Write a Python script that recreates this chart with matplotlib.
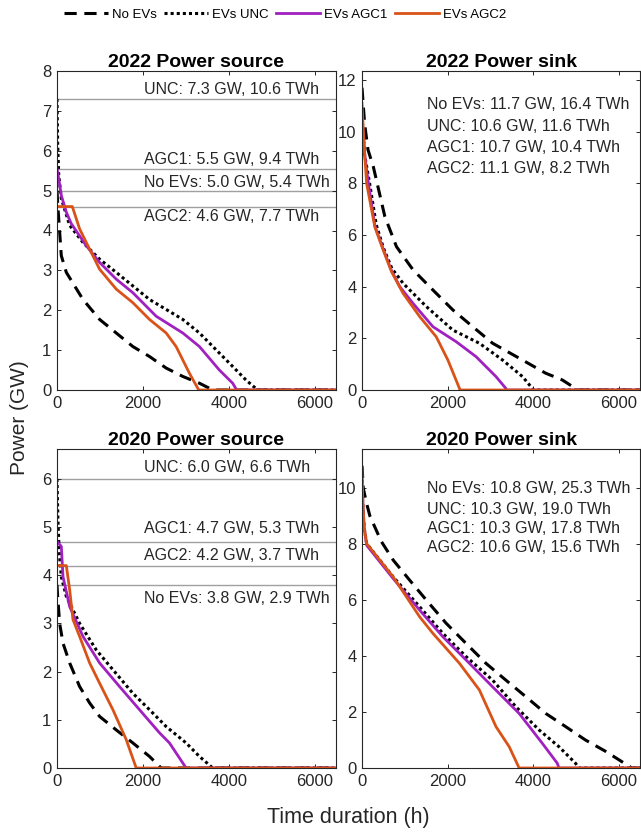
import matplotlib
matplotlib.use('Agg')
import matplotlib.pyplot as plt

plt.rcParams['font.family'] = ['Liberation Sans', 'DejaVu Sans']

series_names = ['No EVs', 'EVs UNC', 'EVs AGC1', 'EVs AGC2']

# 2022 power source (h, GW)
src22_h = {
    'No EVs': [0, 20, 62, 100, 217, 605, 992, 1380, 1767, 2155, 2543, 2930, 3318, 3630, 8760],
    'EVs UNC': [0, 15, 40, 100, 295, 605, 992, 1380, 1767, 2155, 2543, 2930, 3318, 3705, 4093, 4403, 4674, 8760],
    'EVs AGC1': [0, 40, 100, 217, 333, 682, 992, 1380, 1767, 2310, 2930, 3318, 3783, 4093, 4186, 8760],
    'EVs AGC2': [0, 357, 527, 682, 992, 1380, 1767, 2155, 2543, 2775, 3085, 3302, 8760],
}
src22_p = {
    'No EVs': [5.0, 4.6, 3.96, 3.37, 2.95, 2.27, 1.77, 1.43, 1.09, 0.84, 0.55, 0.34, 0.17, 0, 0],
    'EVs UNC': [7.3, 6.2, 5.4, 4.8, 4.13, 3.7, 3.28, 2.95, 2.61, 2.27, 2.02, 1.77, 1.43, 1.01, 0.59, 0.25, 0, 0],
    'EVs AGC1': [5.55, 5.3, 4.88, 4.46, 4.17, 3.62, 3.2, 2.78, 2.44, 1.85, 1.43, 1.09, 0.5, 0.17, 0, 0],
    'EVs AGC2': [4.6, 4.6, 4.04, 3.7, 3.03, 2.53, 2.19, 1.77, 1.43, 1.09, 0.42, 0, 0],
}
src22_lines = [7.3, 5.55, 5.0, 4.6]
src22_text = ['UNC: 7.3 GW, 10.6 TWh', 'AGC1: 5.5 GW, 9.4 TWh',
              'No EVs: 5.0 GW, 5.4 TWh', 'AGC2: 4.6 GW, 7.7 TWh']
src22_text_y = [7.54, 5.79, 5.2, 4.35]

# 2022 power sink
snk22_h = {
    'No EVs': [0, 62, 140, 264, 535, 806, 1194, 1659, 2124, 2589, 3054, 3752, 4295, 4682, 4992, 5030, 8760],
    'EVs UNC': [0, 25, 62, 178, 333, 500, 700, 961, 1504, 2124, 2744, 3287, 3752, 3984, 4010, 8760],
    'EVs AGC1': [0, 25, 62, 150, 302, 496, 690, 884, 1194, 1659, 2202, 2667, 3132, 3364, 3380, 8760],
    'EVs AGC2': [0, 23, 62, 108, 302, 496, 690, 961, 1349, 1736, 2008, 2279, 2290, 8760],
}
snk22_p = {
    'No EVs': [11.7, 10.3, 9.3, 8.65, 6.71, 5.55, 4.65, 3.87, 3.1, 2.45, 1.81, 1.16, 0.65, 0.39, 0.06, 0, 0],
    'EVs UNC': [10.6, 10.0, 9.1, 8.0, 6.4, 5.5, 4.7, 4.13, 3.23, 2.32, 1.81, 1.16, 0.52, 0.06, 0, 0],
    'EVs AGC1': [10.7, 10.0, 9.1, 8.0, 6.35, 5.45, 4.62, 4.0, 3.35, 2.45, 1.87, 1.29, 0.52, 0.06, 0, 0],
    'EVs AGC2': [11.1, 10.3, 9.16, 8.0, 6.3, 5.42, 4.58, 3.74, 2.84, 2.06, 1.16, 0.06, 0, 0],
}
snk22_text = ['No EVs: 11.7 GW, 16.4 TWh', 'UNC: 10.6 GW, 11.6 TWh',
              'AGC1: 10.7 GW, 10.4 TWh', 'AGC2: 11.1 GW, 8.2 TWh']
snk22_text_y = [11.06, 10.22, 9.39, 8.58]

# 2020 power source
src20_h = {
    'No EVs': [0, 15, 62, 140, 295, 527, 760, 992, 1380, 1767, 2155, 2426, 8760],
    'EVs UNC': [0, 20, 50, 100, 217, 527, 915, 1302, 1767, 2155, 2543, 3008, 3318, 3628, 8760],
    'EVs AGC1': [0, 100, 140, 295, 605, 992, 1457, 1922, 2388, 2620, 3008, 8760],
    'EVs AGC2': [0, 217, 295, 372, 527, 760, 992, 1302, 1612, 1845, 8760],
}
src20_p = {
    'No EVs': [3.8, 3.56, 3.0, 2.59, 2.18, 1.69, 1.35, 1.07, 0.79, 0.52, 0.24, 0, 0],
    'EVs UNC': [6.0, 5.2, 4.5, 3.97, 3.56, 3.0, 2.45, 2.04, 1.55, 1.21, 0.86, 0.52, 0.24, 0, 0],
    'EVs AGC1': [4.7, 4.6, 3.97, 3.35, 2.73, 2.18, 1.69, 1.21, 0.73, 0.52, 0, 0],
    'EVs AGC2': [4.2, 4.2, 3.7, 3.08, 2.73, 2.18, 1.76, 1.21, 0.59, 0, 0],
}
src20_lines = [6.0, 4.7, 4.2, 3.8]
src20_text = ['UNC: 6.0 GW, 6.6 TWh', 'AGC1: 4.7 GW, 5.3 TWh',
              'AGC2: 4.2 GW, 3.7 TWh', 'No EVs: 3.8 GW, 2.9 TWh']
src20_text_y = [6.23, 4.98, 4.42, 3.52]

# 2020 power sink
snk20_h = {
    'No EVs': [0, 30, 100, 186, 450, 729, 1116, 1504, 1969, 2434, 2899, 3364, 3829, 4295, 4760, 5225, 5690, 6000, 6310, 8760],
    'EVs UNC': [0, 20, 50, 109, 729, 1349, 1891, 2434, 3054, 3597, 4140, 4605, 4992, 5070, 8760],
    'EVs AGC1': [0, 20, 50, 109, 729, 1349, 1891, 2434, 3054, 3674, 4217, 4566, 4605, 8760],
    'EVs AGC2': [0, 20, 50, 109, 729, 1349, 1659, 2279, 2744, 3132, 3442, 3674, 8760],
}
snk20_p = {
    'No EVs': [10.8, 10.0, 9.5, 9.0, 8.1, 7.43, 6.71, 6.0, 5.17, 4.45, 3.74, 3.14, 2.55, 1.95, 1.48, 1.0, 0.6, 0.3, 0, 0],
    'EVs UNC': [10.3, 9.3, 8.6, 8.02, 6.83, 5.76, 4.81, 3.98, 3.14, 2.19, 1.36, 0.76, 0.17, 0, 0],
    'EVs AGC1': [10.3, 9.4, 8.6, 7.96, 6.77, 5.64, 4.69, 3.86, 2.9, 1.95, 0.88, 0.17, 0, 0],
    'EVs AGC2': [10.6, 9.5, 8.6, 8.02, 6.83, 5.4, 4.81, 3.74, 2.79, 1.48, 0.76, 0, 0],
}
snk20_text = ['No EVs: 10.8 GW, 25.3 TWh', 'UNC: 10.3 GW, 19.0 TWh',
              'AGC1: 10.3 GW, 17.8 TWh', 'AGC2: 10.6 GW, 15.6 TWh']
snk20_text_y = [10.0, 9.25, 8.56, 7.89]

styles = {
    'No EVs': dict(color='black', linestyle=(0, (4, 2.5)), linewidth=2.2),
    'EVs UNC': dict(color='black', linestyle=(0, (1, 1)), linewidth=2.2),
    'EVs AGC1': dict(color='#A020C0', linestyle='-', linewidth=2.0),
    'EVs AGC2': dict(color='#D95319', linestyle='-', linewidth=2.0),
}

fig = plt.figure(figsize=(6.41, 8.33), dpi=100)
W, H = 641, 833


def make_ax(x0, x1, y0, y1):
    return fig.add_axes([x0 / W, 1 - y1 / H, (x1 - x0) / W, (y1 - y0) / H])


panels = [
    (make_ax(57, 336, 71, 390), '2022 Power source', src22_h, src22_p, 8, 1),
    (make_ax(362, 640, 71, 390), '2022 Power sink', snk22_h, snk22_p, 12.35, 2),
    (make_ax(57, 336, 449, 768), '2020 Power source', src20_h, src20_p, 6.62, 1),
    (make_ax(362, 640, 449, 768), '2020 Power sink', snk20_h, snk20_p, 11.4, 2),
]

for ax, title, hs, ps, ytop, ystep in panels:
    for name in series_names:
        ax.plot(hs[name], ps[name], label=name, **styles[name])
    ax.set_xlim(0, 6500)
    ax.set_ylim(0, ytop)
    ax.set_xticks([0, 2000, 4000, 6000])
    yt = [i * ystep for i in range(int(ytop // ystep) + 1)]
    ax.set_yticks(yt)
    ax.set_title(title, fontsize=14, fontweight='bold', pad=3)
    ax.tick_params(direction='in', top=True, right=True, labelsize=12,
                   length=3, width=0.7, colors='#262626', pad=4)
    for s in ax.spines.values():
        s.set_color('#262626')
        s.set_linewidth(0.8)

# reference lines and labels for power source panels
for ax, lines, texts, ty in [(panels[0][0], src22_lines, src22_text, src22_text_y),
                             (panels[2][0], src20_lines, src20_text, src20_text_y)]:
    for v in lines:
        ax.axhline(v, color='#a0a0a0', linewidth=1.0, zorder=0)
    for t, y in zip(texts, ty):
        ax.text(2020, y, t, fontsize=11.5, va='center', ha='left', color='#262626')

for ax, texts, ty in [(panels[1][0], snk22_text, snk22_text_y),
                      (panels[3][0], snk20_text, snk20_text_y)]:
    for t, y in zip(texts, ty):
        ax.text(1530, y, t, fontsize=11.5, va='center', ha='left', color='#262626')

handles, labels = panels[0][0].get_legend_handles_labels()
fig.legend(handles, labels, loc='center', bbox_to_anchor=(285 / W, 1 - 15 / H),
           ncol=4, frameon=False, fontsize=9.5, handlelength=3.3,
           handletextpad=0.3, columnspacing=0.6)

fig.text(20 / W, 1 - 418 / H, 'Power (GW)', rotation=90, va='center', ha='center',
         fontsize=15, color='#262626')
fig.text(348 / W, 1 - 818 / H, 'Time duration (h)', va='center', ha='center',
         fontsize=15.5, color='#262626')

fig.savefig('out.png', dpi=100)
